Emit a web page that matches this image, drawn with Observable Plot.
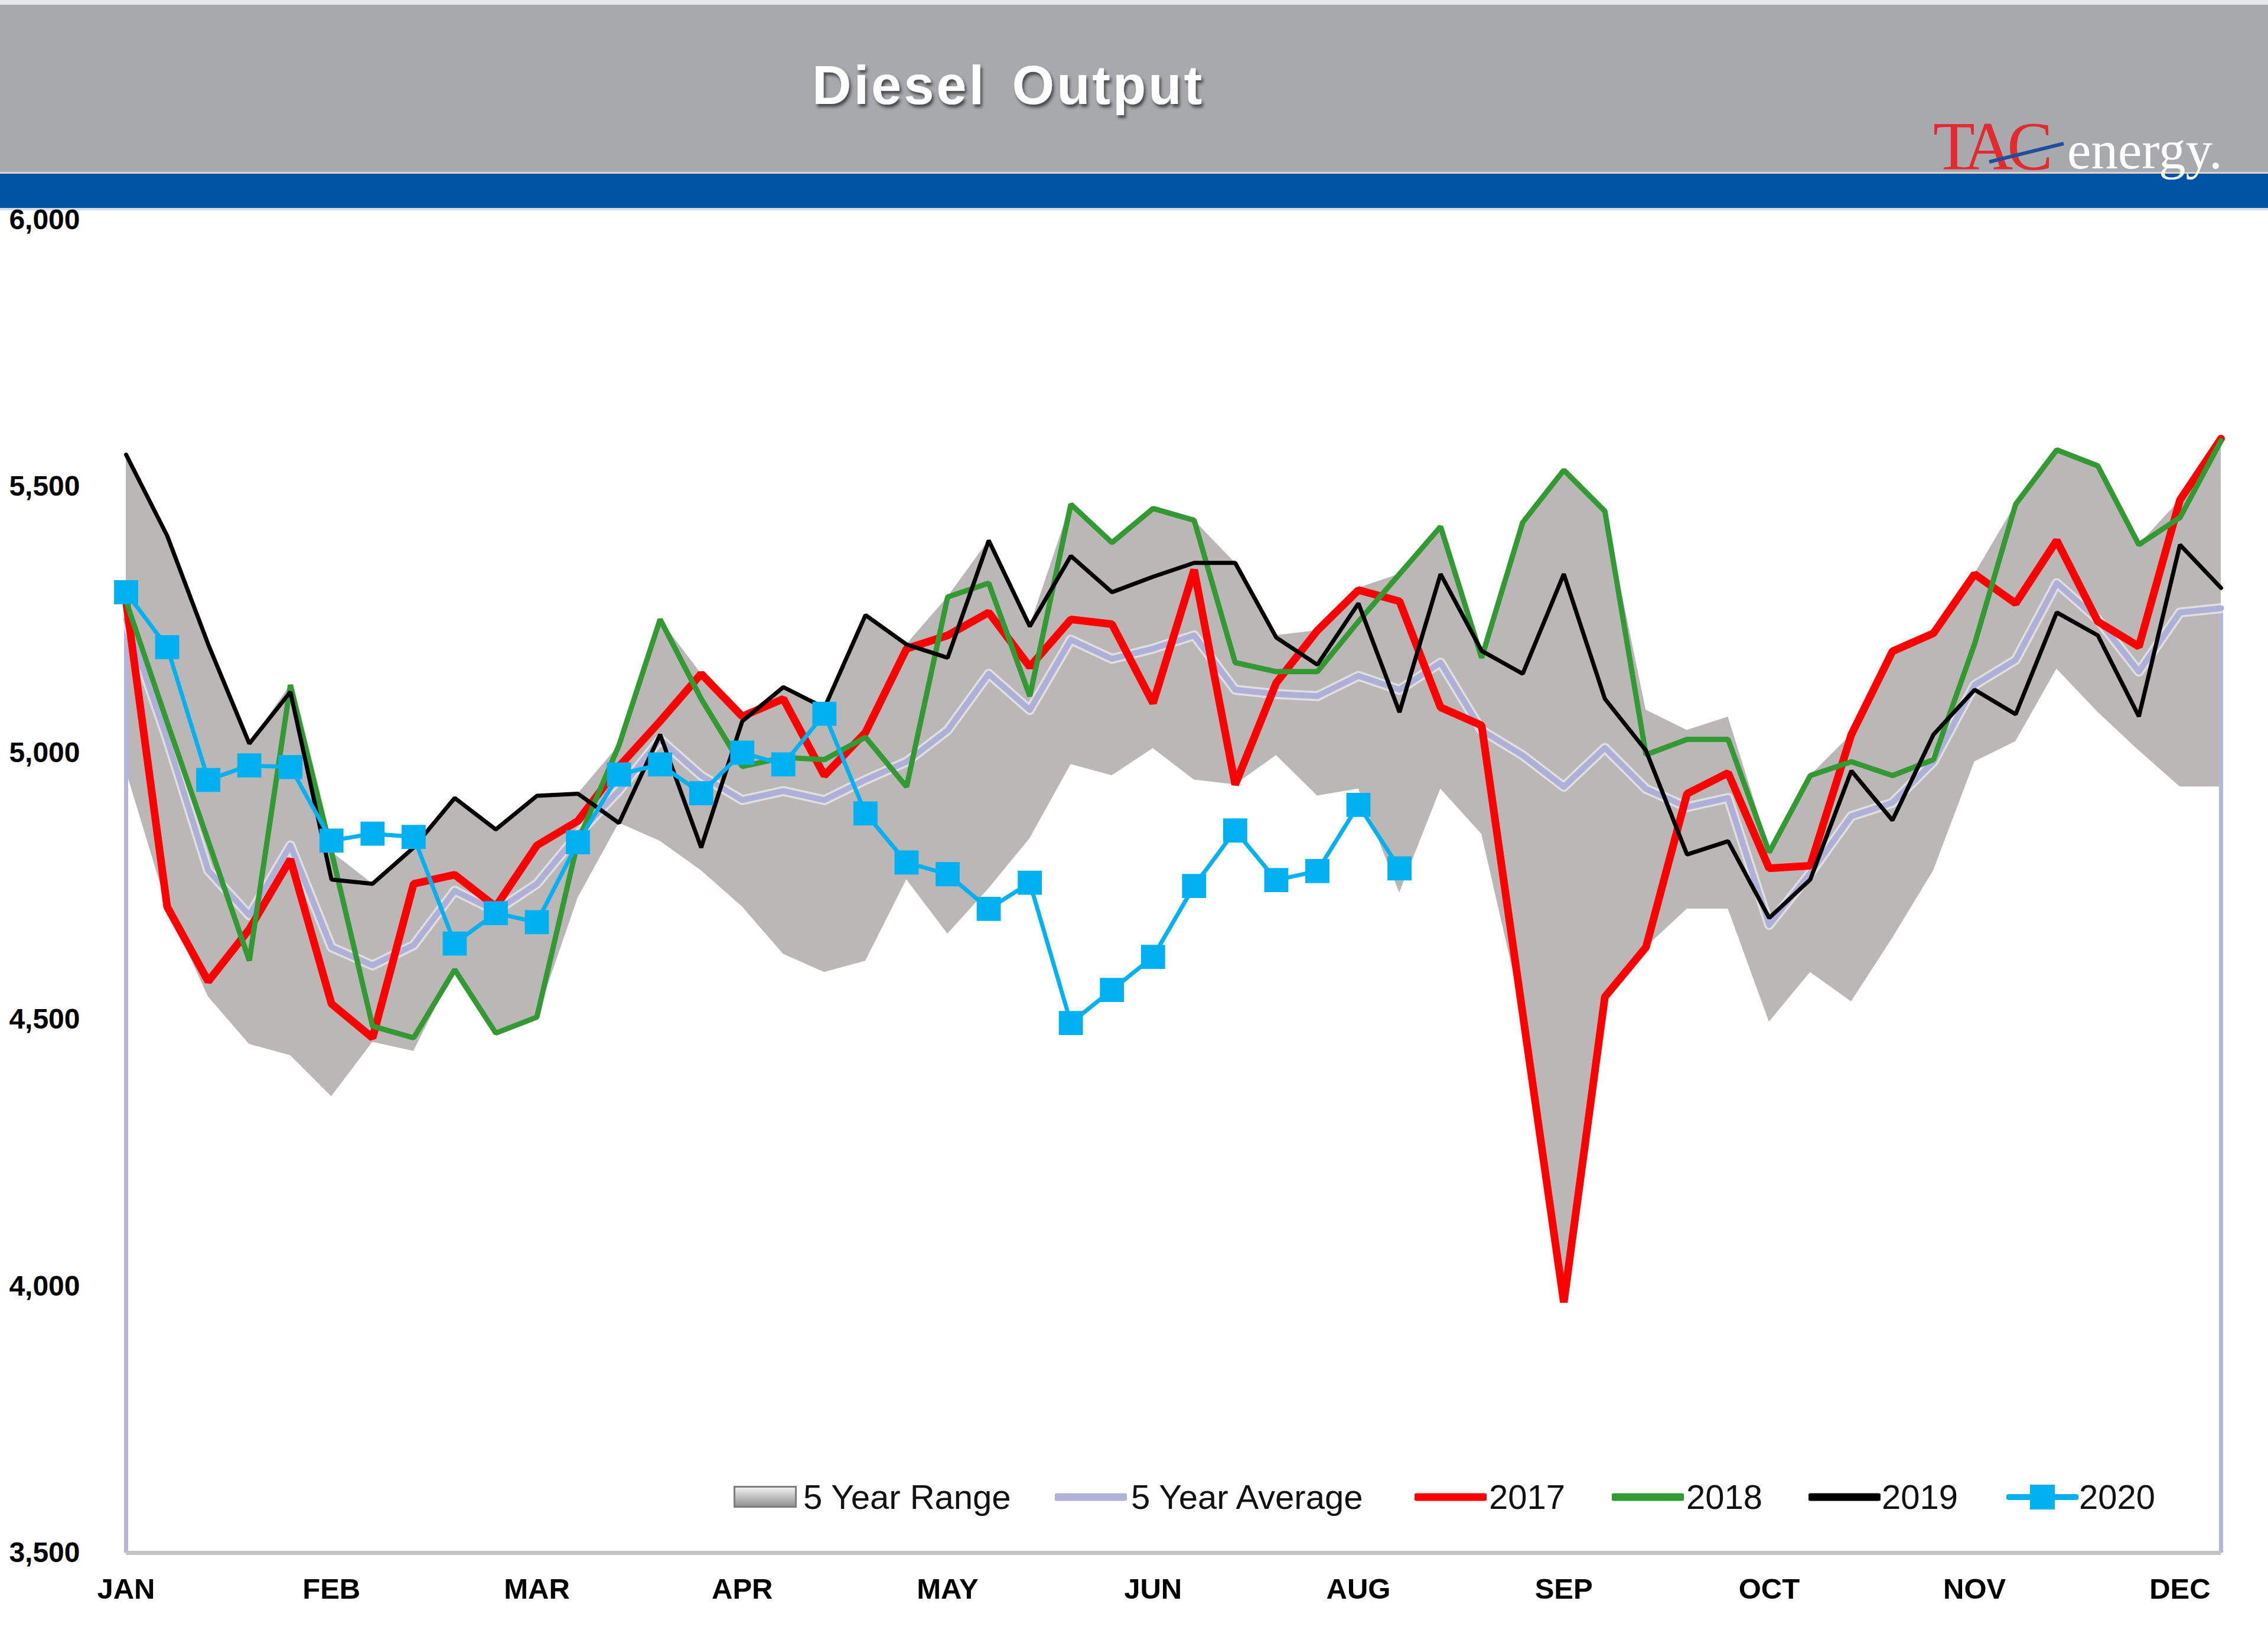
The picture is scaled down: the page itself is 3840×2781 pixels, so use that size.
<!DOCTYPE html>
<html><head><meta charset="utf-8">
<script src="https://cdn.jsdelivr.net/npm/d3@7"></script>
<script src="https://cdn.jsdelivr.net/npm/@observablehq/plot@0.6"></script>
<style>
html,body{margin:0;padding:0;background:#fff;}
#page{position:relative;width:3840px;height:2781px;overflow:hidden;background:#fff;font-family:"Liberation Sans",Arial,sans-serif;}
#hdr{position:absolute;left:0;top:0;}
#chart{position:absolute;left:0;top:355px;}
.lg{position:absolute;top:2504px;height:60px;line-height:60px;font-size:58px;color:#111;white-space:nowrap;}
.sw{position:absolute;}
</style>
</head><body>
<div id="page">
<svg id="hdr" width="3840" height="360" xmlns="http://www.w3.org/2000/svg">
  <defs>
    <filter id="ts" x="-10%" y="-30%" width="120%" height="160%">
      <feDropShadow dx="3" dy="5" stdDeviation="2.5" flood-color="#2a2a2a" flood-opacity="0.75"/>
    </filter>
  </defs>
  <rect x="0" y="0" width="3840" height="8" fill="#e6e7e8"/>
  <rect x="0" y="8" width="3840" height="283" fill="#a7a9ac"/>
  <rect x="0" y="291" width="3840" height="3" fill="#d9d6d0"/>
  <rect x="0" y="294" width="3840" height="58" fill="#0052a2"/>
  <rect x="0" y="352" width="3840" height="4" fill="#d8dde6"/>
  <text x="1707" y="176" text-anchor="middle" font-family="Liberation Sans, Arial, sans-serif" font-weight="bold" font-size="92" letter-spacing="4" word-spacing="14" fill="#ffffff" filter="url(#ts)">Diesel Output</text>
  <text x="3273" y="287" font-family="Liberation Serif, Times New Roman, serif" font-size="116" letter-spacing="-10" fill="#e32b2f">TAC</text>
  <line x1="3368" y1="274" x2="3494" y2="243" stroke="#1d4f9e" stroke-width="6"/>
  <text x="3500" y="285" font-family="Liberation Serif, Times New Roman, serif" font-size="91" fill="#ffffff">energy.</text>
</svg>
<div id="chart"></div>

<div class="lg" style="left:1242px;width:2500px;">
  <svg class="sw" style="left:0;top:11px" width="108" height="38"><defs><linearGradient id="gr" x1="0" y1="0" x2="0" y2="1"><stop offset="0" stop-color="#f4f4f4"/><stop offset="1" stop-color="#8e8e8e"/></linearGradient></defs><rect x="1.5" y="1.5" width="104" height="34" fill="url(#gr)" stroke="#7d7d7d" stroke-width="3"/></svg>
  <span style="position:absolute;left:118px">5 Year Range</span>
  <svg class="sw" style="left:544px;top:22px" width="122" height="16"><line x1="4" y1="8" x2="118" y2="8" stroke="#b0b2da" stroke-width="13" stroke-linecap="round"/></svg>
  <span style="position:absolute;left:673px">5 Year Average</span>
  <svg class="sw" style="left:1153px;top:22px" width="122" height="16"><line x1="4" y1="8" x2="118" y2="8" stroke="#ff0000" stroke-width="13" stroke-linecap="round"/></svg>
  <span style="position:absolute;left:1279px">2017</span>
  <svg class="sw" style="left:1487px;top:22px" width="122" height="16"><line x1="4" y1="8" x2="118" y2="8" stroke="#339933" stroke-width="13" stroke-linecap="round"/></svg>
  <span style="position:absolute;left:1613px">2018</span>
  <svg class="sw" style="left:1820px;top:22px" width="122" height="16"><line x1="4" y1="8" x2="118" y2="8" stroke="#000000" stroke-width="13" stroke-linecap="round"/></svg>
  <span style="position:absolute;left:1944px">2019</span>
  <svg class="sw" style="left:2155px;top:6px" width="122" height="48"><line x1="4" y1="24" x2="118" y2="24" stroke="#00b0f0" stroke-width="10" stroke-linecap="round"/><rect x="40" y="3" width="42" height="42" fill="#00b0f0"/></svg>
  <span style="position:absolute;left:2278px">2020</span>
</div>
</div>

<script>
// ---- data (thousand b/d), weekly, week 1..52 ----
const monthLabels = ["JAN","FEB","MAR","APR","MAY","JUN","AUG","SEP","OCT","NOV","DEC"];
const monthTickWeeks = [0,5,10,15,20,25,30,35,40,45,50];
const yTicks = [3500,4000,4500,5000,5500,6000];

const range5High = [5560,5408,5204,5018,5128,4815,4755,4823,4916,4857,4920,4924,5015,5251,5149,5069,5124,5085,5259,5204,5293,5399,5238,5467,5395,5459,5437,5357,5221,5230,5310,5336,5425,5192,5433,5531,5454,5081,5043,5068,4822,4958,5035,5191,5225,5336,5467,5569,5539,5391,5475,5590];
const range5Low  = [4967,4712,4543,4454,4433,4356,4458,4441,4594,4475,4505,4729,4869,4835,4780,4712,4623,4589,4610,4763,4661,4746,4840,4979,4958,5009,4950,4941,4996,4920,4933,4738,4933,4848,4511,3970,4543,4636,4708,4708,4496,4589,4534,4653,4780,4984,5022,5158,5077,5005,4937,4937];
const avg5 = [5251,5026,4780,4696,4827,4636,4602,4640,4742,4704,4755,4848,4930,5026,4958,4912,4929,4912,4950,4984,5043,5149,5081,5213,5177,5196,5221,5119,5111,5107,5145,5119,5170,5043,4996,4937,5010,4933,4899,4916,4678,4775,4882,4907,4984,5128,5175,5319,5251,5153,5264,5272];
const s2017 = [5285,4712,4572,4670,4801,4530,4466,4755,4772,4712,4827,4873,4975,5060,5149,5069,5102,4958,5039,5196,5221,5264,5162,5251,5242,5094,5344,4941,5132,5230,5306,5285,5086,5052,4511,3970,4543,4636,4924,4963,4784,4789,5035,5191,5225,5336,5281,5399,5247,5200,5475,5590];
const s2018 = [5285,5058,4835,4611,5128,4815,4488,4466,4594,4475,4505,4835,5015,5251,5102,4975,4992,4988,5030,4937,5293,5319,5107,5467,5395,5459,5437,5170,5153,5153,5247,5336,5425,5179,5433,5531,5454,4997,5026,5026,4814,4958,4984,4958,4988,5205,5467,5569,5539,5391,5442,5586];
const s2019 = [5560,5408,5204,5018,5115,4763,4755,4823,4916,4857,4920,4924,4869,5035,4823,5060,5124,5085,5259,5204,5179,5399,5238,5370,5302,5331,5357,5357,5217,5166,5281,5077,5336,5192,5149,5336,5102,5005,4810,4835,4691,4763,4967,4874,5035,5119,5073,5264,5221,5069,5391,5310];
const s2020 = [5302,5199,4950,4977,4974,4836,4849,4843,4643,4700,4683,4833,4960,4979,4925,5001,4979,5074,4887,4795,4773,4708,4757,4494,4556,4618,4751,4855,4762,4779,4903,4784];

const rows = s2017.map((v, i) => ({
  week: i, lower: range5Low[i], upper: range5High[i], avg: avg5[i],
  y2017: s2017[i], y2018: s2018[i], y2019: s2019[i]
}));
const rows2020 = s2020.map((v, i) => ({week: i, v}));
const labelByWeek = new Map(monthTickWeeks.map((w, k) => [w, monthLabels[k]]));
const yMin = yTicks[0], yMax = yTicks[yTicks.length - 1];
const ends = [rows[0], rows[rows.length - 1]];

const chart = Plot.plot({
  width: 3840,
  height: 2426,
  marginLeft: 213,
  marginRight: 80,
  marginTop: 17,
  marginBottom: 153,
  x: {domain: [0, rows.length - 1], axis: null},
  y: {domain: [yMin, yMax], axis: null},
  style: {fontFamily: "Liberation Sans, Arial, sans-serif", fontSize: "48px", fontWeight: "bold", color: "#000", background: "transparent", overflow: "visible"},
  marks: [
    Plot.areaY(rows, {x: "week", y1: "lower", y2: "upper", fill: "#bbb7b7", curve: "linear"}),
    Plot.ruleX(ends, {x: "week", y1: () => yMin, y2: "avg", stroke: "#b3b5dc", strokeWidth: 7}),
    Plot.line(rows, {x: "week", y: "avg", stroke: "#ffffff", strokeOpacity: 0.55, strokeWidth: 17}),
    Plot.line(rows, {x: "week", y: "avg", stroke: "#aeb0d8", strokeWidth: 10}),
    Plot.ruleY([yMin], {stroke: "#c4c4c4", strokeWidth: 7}),
    Plot.line(rows, {x: "week", y: "y2017", stroke: "#ff0000", strokeWidth: 13, strokeLinejoin: "miter"}),
    Plot.line(rows, {x: "week", y: "y2018", stroke: "#339933", strokeWidth: 9, strokeLinejoin: "miter"}),
    Plot.line(rows, {x: "week", y: "y2019", stroke: "#000000", strokeWidth: 7, strokeLinejoin: "miter"}),
    Plot.line(rows2020, {x: "week", y: "v", stroke: "#00b0f0", strokeWidth: 7}),
    Plot.dot(rows2020, {x: "week", y: "v", symbol: "square", fill: "#00b0f0", r: 23}),
    Plot.axisY(yTicks, {label: null, tickSize: 0, tickPadding: 78, tickFormat: d3.format(","), fontSize: 48, fontWeight: "bold", fill: "#000"}),
    Plot.axisX(monthTickWeeks, {label: null, tickSize: 0, tickPadding: 43, tickFormat: d => labelByWeek.get(d), fontSize: 49, fontWeight: "bold", fill: "#000"})
  ]
});
document.getElementById("chart").appendChild(chart);
</script>
</body></html>
